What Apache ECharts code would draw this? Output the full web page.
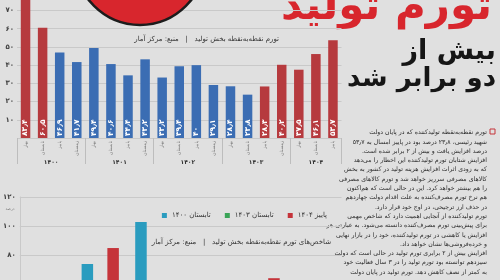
<!DOCTYPE html>
<html lang="fa" dir="rtl">
<head>
<meta charset="utf-8">
<script src="https://cdn.jsdelivr.net/npm/echarts@6/dist/echarts.min.js"></script>
<style>
  html, body { margin: 0; padding: 0; overflow: hidden; background: #e0e0e0; }
  /* ۲۰ پیکسل بالا بیرون از صفحه می ماند تا میله ۸۳٫۴ بریده شود */
  #chart { width: 500px; height: 350px; margin-top: -20px; }
</style>
</head>
<body>
<div id="chart"></div>
<script>
// نمودار بالا: تورم نقطه به نقطه بخش تولید (فصلی)
const seasons = [
  'بهار', 'تابستان', 'پاییز', 'زمستان',
  'بهار', 'تابستان', 'پاییز', 'زمستان',
  'بهار', 'تابستان', 'پاییز', 'زمستان',
  'بهار', 'تابستان', 'پاییز', 'زمستان',
  'بهار', 'تابستان', 'پاییز'
];
const years = [
  '۱۴۰۰', '۱۴۰۰', '۱۴۰۰', '۱۴۰۰',
  '۱۴۰۱', '۱۴۰۱', '۱۴۰۱', '۱۴۰۱',
  '۱۴۰۲', '۱۴۰۲', '۱۴۰۲', '۱۴۰۲',
  '۱۴۰۳', '۱۴۰۳', '۱۴۰۳', '۱۴۰۳',
  '۱۴۰۴', '۱۴۰۴', '۱۴۰۴'
];
// دولت دوازدهم و چهاردهم (قرمز)
const redValues = [83.4, 60.5, '-', '-', '-', '-', '-', '-', '-', '-', '-', '-', '-', '-', 28.3, 40.2, 37.5, 46.1, 53.7];
// دولت سیزدهم (آبی)
const blueValues = ['-', '-', 46.9, 41.7, 49.4, 40.6, 34.4, 43.2, 33.2, 39.4, 40, 29.1, 28.4, 23.8, '-', '-', '-', '-', '-'];
const topTicks = [0, 10, 20, 30, 40, 50, 60, 70, 80];

// نمودار پایین: شاخص های تورم نقطه به نقطه بخش تولید
const groups = ['۱', '۲', '۳', '۴', '۵', '۶'];
const summer1400 = [58, 73.8, 102.8, 55, 56, 54];
const summer1403 = [52, 57, 56, 50, 53, 51];
const autumn1404 = [55, 84.8, 60, 57, 64, 58];
const bottomTicks = [40, 60, 80, 100, 120];

const lines = [
  'تورم نقطه‌به‌نقطه تولیدکننده که در پایان دولت',
  'شهید رئیسی، ۲۳٫۸ درصد بود در پاییز امسال به ۵۳٫۷',
  'درصد افزایش یافت و بیش از ۲ برابر شده است.',
  'افزایش شتابان تورم تولیدکننده این اخطار را می‌دهد',
  'که به زودی اثرات افزایش هزینه تولید در کشور به بخش',
  'کالاهای مصرفی سرریز خواهد شد و تورم کالاهای مصرفی',
  'را هم بیشتر خواهد کرد. این در حالی است که هم‌اکنون',
  'هم نرخ تورم مصرف‌کننده به علت اقدام دولت چهاردهم',
  'در حذف ارز ترجیحی، در اوج خود قرار دارد.',
  'تورم تولیدکننده از آنجایی اهمیت دارد که شاخص مهمی',
  'برای پیش‌بینی تورم مصرف‌کننده دانسته می‌شود. به عبارتی هر',
  'افزایش یا کاهشی در تورم تولیدکننده، خود را در بازار نهایی',
  'و خرده‌فروشی‌ها نشان خواهد داد.',
  'افزایش بیش از ۲ برابری تورم تولید در حالی است که دولت',
  'سیزدهم توانسته بود تورم تولید را در ۳ سال فعالیت خود',
  'به کمتر از نصف کاهش دهد. تورم تولید در پایان دولت'
];

// اعداد فارسی
function fa(v) {
  return String(v).replace(/\d/g, d => '۰۱۲۳۴۵۶۷۸۹'[d]).replace('.', '٫');
}

// محور دوم: نیم خانه ها برای مرز و وسط هر سال
let halfSlots = [];
let bounds = [0];
let mids = [];
for (let i = 0; i < years.length; i++) {
  if (i > 0 && years[i] !== years[i - 1]) bounds.push(i * 2);
}
bounds.push(years.length * 2);
for (let i = 0; i <= years.length * 2; i++) halfSlots.push('');
for (let b = 0; b < bounds.length - 1; b++) {
  let m = (bounds[b] + bounds[b + 1]) / 2;
  mids.push(m);
  halfSlots[m] = years[bounds[b] / 2];
}

let myChart = echarts.init(document.getElementById('chart'));
const font = 'DejaVu Sans';
const gridColor = '#c9c9c9';
const dy = 20; // جابجایی عمودی به خاطر margin-top

const barLabel = {
  show: true,
  position: 'insideBottom',
  rotate: 90,
  align: 'left',
  verticalAlign: 'middle',
  distance: 2,
  fontSize: 7.5,
  fontWeight: 'bold',
  color: '#fff',
  formatter: (p) => fa(p.value)
};

myChart.setOption({
  backgroundColor: '#e0e0e0',
  textStyle: { fontFamily: font },
  animation: false,
  grid: [
    // ۰ در y=138 و هر ۱۰ واحد حدود ۱۸.۲ پیکسل
    { left: 17, top: dy - 7.7, width: 324.5, height: 145.7 },
    { left: 17, top: dy + 197, width: 324.5, height: 116 }
  ],
  legend: {
    data: ['تابستان ۱۴۰۰', 'تابستان ۱۴۰۳', 'پاییز ۱۴۰۴'],
    right: 168,
    top: dy + 207,
    icon: 'rect',
    itemWidth: 5,
    itemHeight: 5,
    itemGap: 14,
    textStyle: { fontSize: 7, color: '#333', fontFamily: font }
  },
  xAxis: [
    {
      gridIndex: 0,
      type: 'category',
      position: 'bottom',
      data: seasons,
      axisLine: { show: false },
      axisTick: { show: false },
      axisLabel: { rotate: 90, fontSize: 4.5, color: '#777', margin: 3 }
    },
    {
      gridIndex: 0,
      type: 'category',
      position: 'bottom',
      data: halfSlots,
      boundaryGap: false,
      axisLine: { show: false },
      axisTick: {
        show: true,
        length: 26,
        interval: (i) => bounds.indexOf(i) >= 0,
        lineStyle: { color: '#bdbdbd', width: 1 }
      },
      axisLabel: {
        interval: (i) => mids.indexOf(i) >= 0,
        margin: 21,
        fontSize: 6,
        fontWeight: 'bold',
        color: '#333'
      }
    },
    {
      gridIndex: 1,
      type: 'category',
      data: groups,
      axisLine: { show: false },
      axisTick: { show: false },
      axisLabel: { show: false }
    }
  ],
  yAxis: [
    {
      gridIndex: 0,
      type: 'value',
      min: topTicks[0],
      max: topTicks[topTicks.length - 1],
      interval: 10,
      axisLine: { show: false },
      axisTick: { show: false },
      splitLine: { lineStyle: { color: gridColor, width: 1 } },
      axisLabel: {
        showMinLabel: false,
        formatter: fa,
        fontSize: 7,
        fontWeight: 'bold',
        color: '#444',
        margin: 3
      }
    },
    {
      gridIndex: 1,
      type: 'value',
      min: bottomTicks[0],
      max: bottomTicks[bottomTicks.length - 1],
      interval: 20,
      axisLine: { show: true, lineStyle: { color: gridColor } },
      axisTick: { show: false },
      splitLine: { lineStyle: { color: gridColor, width: 1 } },
      axisLabel: {
        formatter: fa,
        fontSize: 7,
        fontWeight: 'bold',
        color: '#444',
        margin: 4
      }
    }
  ],
  series: [
    {
      name: 'دولت سیزدهم',
      type: 'bar',
      xAxisIndex: 0,
      yAxisIndex: 0,
      data: blueValues,
      barWidth: 9.5,
      barGap: '-100%',
      itemStyle: { color: '#3b6db3' },
      label: barLabel
    },
    {
      name: 'دولت دوازدهم و چهاردهم',
      type: 'bar',
      xAxisIndex: 0,
      yAxisIndex: 0,
      data: redValues,
      barWidth: 9.5,
      barGap: '-100%',
      itemStyle: { color: '#b63a3e' },
      label: barLabel
    },
    {
      name: 'تابستان ۱۴۰۰',
      type: 'bar',
      xAxisIndex: 2,
      yAxisIndex: 1,
      data: summer1400,
      barWidth: 11.5,
      barGap: '12%',
      itemStyle: { color: '#2a9cbf' }
    },
    {
      name: 'تابستان ۱۴۰۳',
      type: 'bar',
      xAxisIndex: 2,
      yAxisIndex: 1,
      data: summer1403,
      barWidth: 11.5,
      barGap: '12%',
      itemStyle: { color: '#3aa457' }
    },
    {
      name: 'پاییز ۱۴۰۴',
      type: 'bar',
      xAxisIndex: 2,
      yAxisIndex: 1,
      data: autumn1404,
      barWidth: 11.5,
      barGap: '12%',
      itemStyle: { color: '#c5343a' }
    }
  ],
  graphic: [
    {
      type: 'circle',
      shape: { cx: 140, cy: dy - 40, r: 65 },
      style: { fill: '#d8262d', stroke: '#1c1c1c', lineWidth: 2.5 },
      z: 10
    },
    {
      type: 'text',
      style: {
        text: 'تورم تولید', x: 492, y: dy + 8, align: 'right', verticalAlign: 'middle',
        font: 'bold 42px "DejaVu Sans"', fill: '#d8262d'
      }
    },
    {
      type: 'text',
      style: {
        text: 'بیش از', x: 496, y: dy + 52, align: 'right', verticalAlign: 'middle',
        font: 'bold 27px "DejaVu Sans"', fill: '#161616'
      }
    },
    {
      type: 'text',
      style: {
        text: 'دو برابر شد', x: 496, y: dy + 79, align: 'right', verticalAlign: 'middle',
        font: 'bold 26px "DejaVu Sans"', fill: '#161616'
      }
    },
    {
      type: 'text',
      style: {
        text: 'تورم نقطه‌به‌نقطه بخش تولید   |   منبع: مرکز آمار', x: 279, y: dy + 39,
        align: 'right', verticalAlign: 'middle',
        font: '7px "DejaVu Sans"', fill: '#333'
      }
    },
    {
      type: 'text',
      style: {
        text: 'شاخص‌های تورم نقطه‌به‌نقطه بخش تولید   |   منبع: مرکز آمار', x: 331, y: dy + 242,
        align: 'right', verticalAlign: 'middle',
        font: '7px "DejaVu Sans"', fill: '#333'
      }
    },
    {
      type: 'text',
      style: {
        text: 'درصد', x: 10, y: dy + 209, align: 'center', verticalAlign: 'middle',
        font: '4px "DejaVu Sans"', fill: '#777'
      }
    },
    {
      type: 'rect',
      shape: { x: 490, y: dy + 129, width: 5, height: 5 },
      style: { fill: 'none', stroke: '#c5343a', lineWidth: 1 }
    },
    {
      type: 'text',
      style: {
        text: lines.join('\n'), x: 487, y: dy + 128, align: 'right', verticalAlign: 'top',
        font: '6.2px "DejaVu Sans"', lineHeight: 9.3, fill: '#2b2b2b'
      }
    }
  ]
});
</script>
</body>
</html>
